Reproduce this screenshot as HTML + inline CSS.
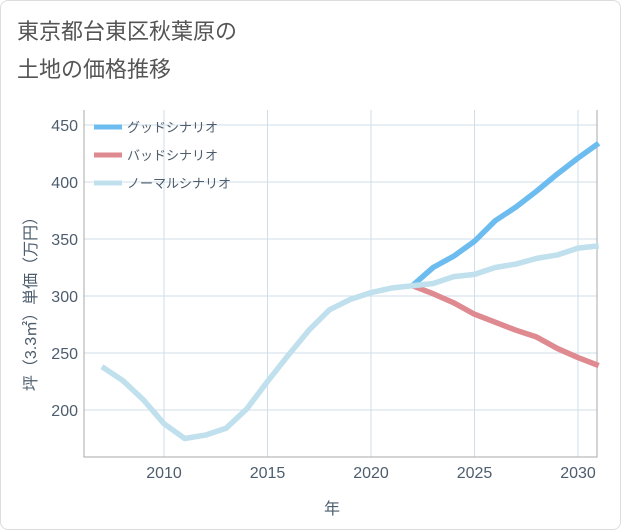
<!DOCTYPE html>
<html><head><meta charset="utf-8"><style>
body{margin:0;background:#fff;font-family:"Liberation Sans","Noto Sans CJK JP",sans-serif;}
#wrap{position:relative;width:619px;height:528px;border:1px solid #ddd;border-radius:8px;overflow:hidden;background:#fff}
.title{position:absolute;left:16px;font-size:22px;color:#555;}
</style></head><body>
<div id="wrap">
<div class="title" style="top:13px">東京都台東区秋葉原の</div>
<div class="title" style="top:51px">土地の価格推移</div>
<svg id="chart" width="621" height="530" style="position:absolute;left:-1px;top:-1px"></svg>
</div>
<script>
const years=[2007,2008,2009,2010,2011,2012,2013,2014,2015,2016,2017,2018,2019,2020,2021,2022,2023,2024,2025,2026,2027,2028,2029,2030,2031];
const normalVals=[238,226,209,188,175,178,184,201,225,248,270,288,297,303,307,309,311,317,319,325,328,333,336,342,344];
const goodYears=[2022,2023,2024,2025,2026,2027,2028,2029,2030,2031];
const goodVals=[309,325,335,348,366,378,392,407,421,434];
const badVals=[309,302,294,284,277,270,264,254,246,239];
const xTicks=[2010,2015,2020,2025,2030];
const yTicks=[200,250,300,350,400,450];
const L=84,R=597,T=110,B=457;
const TXT='#4d5d6d';
const x=v=>164+(v-2010)*20.7;
const y=v=>410-(v-200)*1.14;
const svg=document.getElementById('chart');
const NS='http://www.w3.org/2000/svg';
function mk(t,a){const e=document.createElementNS(NS,t);for(const k in a)e.setAttribute(k,a[k]);svg.appendChild(e);return e;}
xTicks.forEach(t=>{
 const g=mk('line',{x1:x(t),x2:x(t),y1:T,y2:B,stroke:'#cfdfea','stroke-width':1});
 
 
 const tx=mk('text',{x:x(t),y:478,'text-anchor':'middle','font-size':16,fill:TXT});
 tx.textContent=t;
 
 
});
yTicks.forEach(t=>{
 const g=mk('line',{x1:L,x2:R,y1:y(t),y2:y(t),stroke:'#cfdfea','stroke-width':1});
 
 
 const tx=mk('text',{x:78,y:y(t)+6,'text-anchor':'end','font-size':16,fill:TXT});
 tx.textContent=t;
 
 
});
const ax=mk('path',{d:`M${L},${T}V${B}H${R}V${T}`,fill:'none',stroke:'#aaa','stroke-width':1});


function line(xs,vs,color,name){
 const p=mk('polyline',{points:xs.map((v,i)=>x(v)+','+y(vs[i])).join(' '),fill:'none',stroke:color,'stroke-width':5.5,'stroke-linejoin':'round'});
 
 
}
line(goodYears,badVals,'#de8a90','bad-scenario-line');
line(goodYears,goodVals,'#6dbcf0','good-scenario-line');
line(years,normalVals,'#bfe0ec','normal-scenario-line');
[['グッドシナリオ','#6dbcf0',127],['バッドシナリオ','#de8a90',155],['ノーマルシナリオ','#bfe0ec',183]].forEach(([n,c,yy])=>{
 const l=mk('line',{x1:94,x2:122,y1:yy,y2:yy,stroke:c,'stroke-width':5});
 
 
 const t=mk('text',{x:127,y:yy+5,'font-size':13,fill:TXT});
 t.textContent=n;
 
 
});
const xt=mk('text',{x:332,y:514,'text-anchor':'middle','font-size':16,fill:TXT});
xt.textContent='年';


const yt=mk('text',{x:0,y:0,'text-anchor':'middle','font-size':16,fill:TXT,transform:'translate(36,300) rotate(-90)'});
yt.textContent='坪（3.3㎡）単価（万円）';


</script>
</body></html>
